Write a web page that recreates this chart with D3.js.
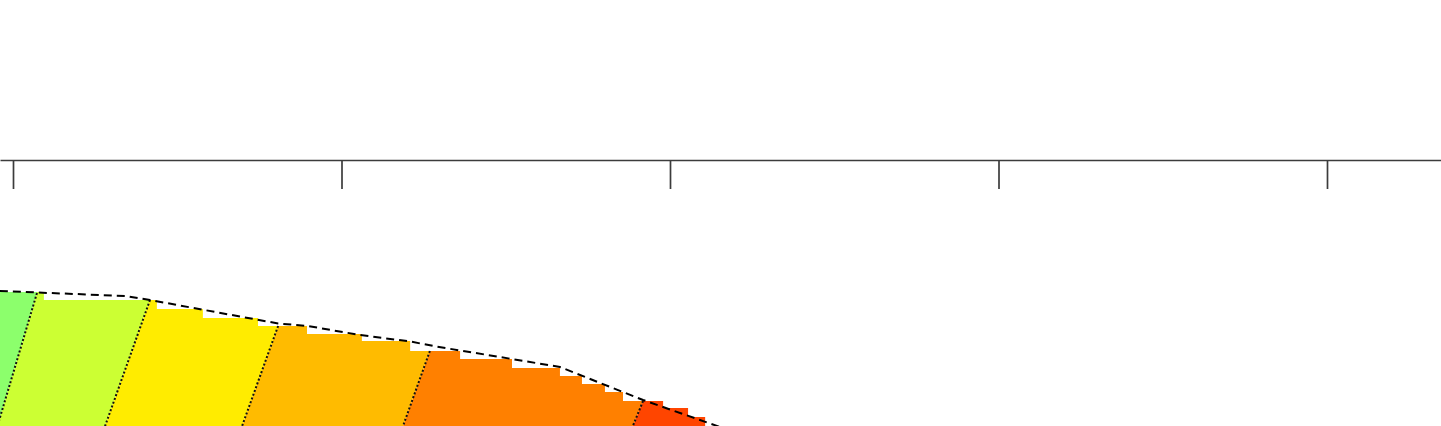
<!DOCTYPE html>
<html>
<head>
<meta charset="utf-8">
<script src="https://cdn.jsdelivr.net/npm/d3@7"></script>
<style>
  body { margin: 0; background: #fff; }
  svg { display: block; }
</style>
</head>
<body>
<div id="chart"></div>
<script>
// tick values on the axis (no labels in the visible part)
const xTicks = [0, 100, 200, 300, 400];

// stepped top of the coloured area: step start x and level
const stepX   = [-4, 9.4, 43.8, 57.8, 74.6, 89.5, 106.2, 120.9, 136.1, 151.9, 166.5, 173.2, 180.2, 185.7, 197.9, 205.5, 210.7];
const stepTop = [268, 260, 251, 242, 234, 226, 219, 209, 201, 192, 184, 176, 168, 159, 152, 143, 143];

// dashed envelope
const envX = [-4, 7.3, 34.1, 41.7, 80.7, 89.8, 105.6, 120.9, 129.1, 148.2, 166.5, 191.8, 215.2];
const envY = [269, 267.5, 264, 260, 236.5, 234, 225, 218.5, 213.3, 203, 193, 160, 133];

// dotted band boundaries: top point and bottom point
const bndTopX = [7.3, 41.7, 80.7, 126.9, 191.8];
const bndTopY = [267, 260, 234, 209, 159];
const bndBotX = [-5.1, 27.6, 69.3, 118.3, 188.2];
const bndBotY = [130, 130, 130, 130, 130];

// band colours, left to right
const bandColors = ["#8cff6c", "#ccff33", "#ffec00", "#ffbb00", "#ff8000", "#ff4500"];

var width = 1441,
    height = 426,
    axisY = 160,
    tickLen = 29;

var svg = d3.select("#chart").append("svg")
    .attr("width", width)
    .attr("height", height);

// scales
var x = d3.scaleLinear().domain([0, 400]).range([13, 1327]);
var y = d3.scaleLinear().domain([0, 400]).range([560, 160]);

// axis scale spans the full width so the domain line runs edge to edge
var xAxisScale = d3.scaleLinear()
    .domain([x.invert(0), x.invert(width)])
    .range([0, width]);

var axis = svg.append("g")
    .attr("transform", "translate(0," + axisY + ")")
    .call(d3.axisBottom(xAxisScale)
        .tickValues(xTicks)
        .tickSize(tickLen)
        .tickSizeOuter(0)
        .tickFormat(""));
axis.selectAll("path, line")
    .attr("stroke", "#3c3c3c")
    .attr("stroke-width", 1.7);

// stepped area used as clip for the bands
var steps = stepX.map((d, i) => ({x: d, y: stepTop[i]}));
var area = d3.area()
    .x(d => x(d.x))
    .y0(y(90))
    .y1(d => y(d.y))
    .curve(d3.curveStepAfter);

svg.append("clipPath")
    .attr("id", "stepclip")
  .append("path")
    .attr("d", area(steps));

// boundary as a line: x at a given y
function bndXAt(i, v) {
  return d3.scaleLinear().domain([bndBotY[i], bndTopY[i]]).range([bndBotX[i], bndTopX[i]])(v);
}

var yHi = 330, yLo = 90;
var bands = bandColors.map((c, i) => {
  var lHi = i === 0 ? -20 : bndXAt(i - 1, yHi),
      lLo = i === 0 ? -20 : bndXAt(i - 1, yLo),
      rHi = i === bandColors.length - 1 ? 450 : bndXAt(i, yHi),
      rLo = i === bandColors.length - 1 ? 450 : bndXAt(i, yLo);
  return {color: c, pts: [[lHi, yHi], [rHi, yHi], [rLo, yLo], [lLo, yLo]]};
});

svg.append("g")
    .attr("clip-path", "url(#stepclip)")
  .selectAll("path")
  .data(bands)
  .join("path")
    .attr("fill", d => d.color)
    .attr("d", d => "M" + d.pts.map(p => x(p[0]) + "," + y(p[1])).join("L") + "Z");

// dotted boundaries
svg.append("g")
  .selectAll("line")
  .data(bndTopX)
  .join("line")
    .attr("x1", (d, i) => x(d))
    .attr("y1", (d, i) => y(bndTopY[i]))
    .attr("x2", (d, i) => x(bndBotX[i]))
    .attr("y2", (d, i) => y(bndBotY[i]))
    .attr("stroke", "#111")
    .attr("stroke-width", 2)
    .attr("stroke-dasharray", "2,2");

// dashed envelope
var env = envX.map((d, i) => ({x: d, y: envY[i]}));
svg.append("path")
    .datum(env)
    .attr("fill", "none")
    .attr("stroke", "#000")
    .attr("stroke-width", 2)
    .attr("stroke-dasharray", "8,5")
    .attr("d", d3.line().x(d => x(d.x)).y(d => y(d.y)));
</script>
</body>
</html>
